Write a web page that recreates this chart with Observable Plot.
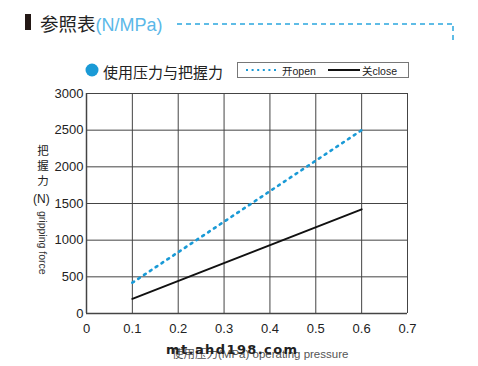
<!DOCTYPE html>
<html><head><meta charset="utf-8">
<script src="https://cdn.jsdelivr.net/npm/d3@7"></script>
<script src="https://cdn.jsdelivr.net/npm/@observablehq/plot@0.6"></script>
<style>
body{margin:0;background:#fff;font-family:"Liberation Sans","Noto Sans CJK SC",sans-serif;}
#wrap{position:relative;width:478px;height:366px;overflow:hidden;}
#chart{position:absolute;left:0;top:0;}
.abs{position:absolute;white-space:nowrap;}
</style></head><body>
<div id="wrap">
<div id="chart"></div>
<svg class="abs" style="left:0;top:0" width="478" height="366">
  <rect x="25" y="14" width="6" height="16" fill="#231815"/>
  <line x1="177" y1="24" x2="452" y2="24" stroke="#2aa7de" stroke-width="1.5" stroke-dasharray="5,4"/>
  <line x1="453" y1="26" x2="453" y2="44" stroke="#2aa7de" stroke-width="1.5" stroke-dasharray="5,4"/>
  <circle cx="92" cy="70" r="6.5" fill="#1a9ad6"/>
  <rect x="237.5" y="62.5" width="171" height="15" fill="#fff" stroke="#777" stroke-width="1"/>
  <line x1="246" y1="70" x2="279" y2="70" stroke="#1a9ad6" stroke-width="2.2" stroke-dasharray="2,3.6"/>
  <line x1="328" y1="70" x2="360" y2="70" stroke="#111" stroke-width="2"/>
</svg>
<div class="abs" style="left:40px;top:10px;font-size:18.5px;color:#222;">参照表<span style="color:#5bb8e8;font-size:18px;">(N/MPa)</span></div>
<div class="abs" style="left:103px;top:61px;font-size:15px;color:#222;">使用压力与把握力</div>
<div class="abs" style="left:282px;top:63px;font-size:10.5px;color:#222;">开open</div>
<div class="abs" style="left:362px;top:63px;font-size:10.5px;color:#222;">关close</div>
<div class="abs" style="left:37px;top:144px;font-size:11.5px;color:#222;line-height:15px;text-align:center;width:12px;">把<br>握<br>力</div>
<div class="abs" style="left:33px;top:192px;font-size:12px;color:#222;">(N)</div>
<div class="abs" style="left:37px;top:211px;font-size:10.5px;color:#333;writing-mode:vertical-rl;">gripping force</div>
<div class="abs" style="left:172px;top:345px;font-size:11.5px;color:#555;">使用压力(MPa) operating pressure</div>
<div class="abs" style="left:166px;top:342px;font-family:'DejaVu Sans',sans-serif;font-size:13px;font-weight:bold;color:#222;letter-spacing:1.4px;">mt.ahd198.com</div>
</div>
<script>
const pressure = [0.1, 0.6];
const openForce = [420, 2500];
const closeForce = [200, 1420];
const xTicks = [0, 0.1, 0.2, 0.3, 0.4, 0.5, 0.6, 0.7];
const yTicks = [0, 500, 1000, 1500, 2000, 2500, 3000];

const openData = pressure.map((p, i) => ({p, f: openForce[i]}));
const closeData = pressure.map((p, i) => ({p, f: closeForce[i]}));

const chart = Plot.plot({
  width: 478, height: 366,
  marginLeft: 86, marginRight: 71, marginTop: 93, marginBottom: 53,
  style: {fontFamily: "Liberation Sans, sans-serif", fontSize: "13px", color: "#222", background: "transparent"},
  x: {domain: [0, 0.7], label: null},
  y: {domain: [0, 3000], label: null},
  marks: [
    Plot.gridX(xTicks, {stroke: "#444", strokeOpacity: 1, strokeWidth: 1}),
    Plot.gridY(yTicks, {stroke: "#444", strokeOpacity: 1, strokeWidth: 1}),
    Plot.axisX(xTicks, {tickSize: 0, tickPadding: 10, fontSize: 13, tickFormat: d => String(d)}),
    Plot.axisY(yTicks, {tickSize: 0, tickPadding: 3, fontSize: 13, tickFormat: d => String(d)}),
    Plot.ruleY([0], {stroke: "#444", strokeWidth: 1.5}),
    Plot.ruleX([0], {stroke: "#444", strokeWidth: 1.5}),
    Plot.line(openData, {x: "p", y: "f", stroke: "#1a9ad6", strokeWidth: 2.6, strokeDasharray: "2,5"}),
    Plot.line(closeData, {x: "p", y: "f", stroke: "#111", strokeWidth: 2})
  ]
});
document.getElementById("chart").appendChild(chart);
</script>
</body></html>
